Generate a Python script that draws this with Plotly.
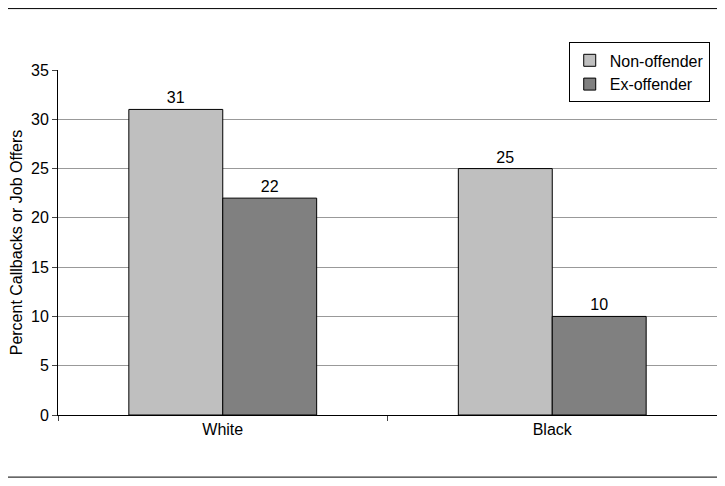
import plotly.graph_objects as go

groups = ["White", "Black"]
non_offender = [31, 25]
ex_offender = [22, 10]

fig = go.Figure()
fig.add_trace(go.Bar(x=groups, y=non_offender, name="Non-offender",
                     marker=dict(color="#bfbfbf", line=dict(color="black", width=1)),
                     text=non_offender, textposition="outside",
                     textfont=dict(size=16, color="black")))
fig.add_trace(go.Bar(x=groups, y=ex_offender, name="Ex-offender",
                     marker=dict(color="#808080", line=dict(color="black", width=1)),
                     text=ex_offender, textposition="outside",
                     textfont=dict(size=16, color="black")))

fig.update_layout(
    width=709, height=470,
    margin=dict(l=50, r=0, t=62, b=63),
    paper_bgcolor="white", plot_bgcolor="white",
    font=dict(family="Liberation Sans, Arial", size=16, color="black"),
    barmode="group", bargap=0.43, bargroupgap=0,
    legend=dict(x=0.775, y=1.08, xanchor="left", yanchor="top",
                bordercolor="black", borderwidth=1, font=dict(size=16),
                tracegroupgap=10),
    shapes=[
        dict(type="line", xref="paper", yref="paper", x0=-0.1, x1=1.01,
             y0=1.178, y1=1.178, line=dict(color="black", width=1)),
        dict(type="line", xref="paper", yref="paper", x0=-0.1, x1=1.01,
             y0=-0.18, y1=-0.18, line=dict(color="black", width=1)),
    ],
)
fig.update_yaxes(range=[0, 35], dtick=5, showgrid=True, gridcolor="#999999",
                 showline=True, linecolor="black", ticks="outside", ticklen=5,
                 title=dict(text="Percent Callbacks or Job Offers", font=dict(size=16),
                            standoff=8))
fig.update_xaxes(showline=True, linecolor="black", ticks="outside", ticklen=5,
                 tickson="boundaries", mirror=False)

fig.write_html("out.html")
